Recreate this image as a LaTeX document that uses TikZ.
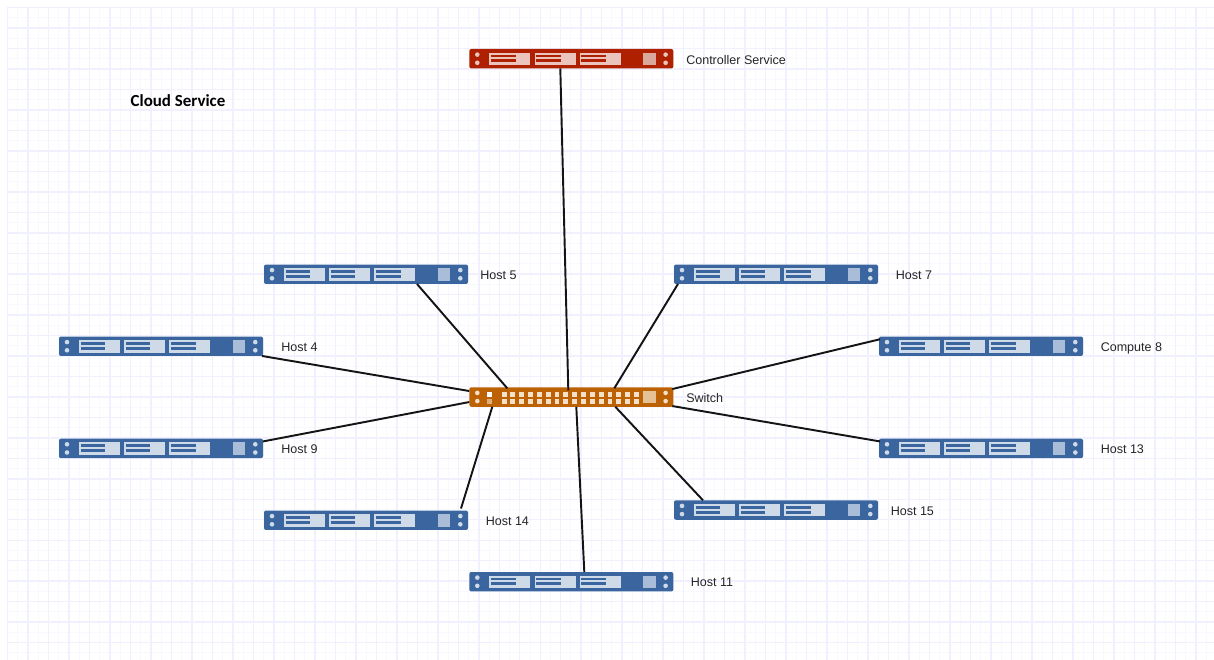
\documentclass[tikz,border=0pt]{standalone}
\usepackage{fontspec}
\setmainfont{Liberation Sans}
\newfontfamily\cloudfont{Carlito}
\usetikzlibrary{calc}
\definecolor{gridc}{HTML}{F8F8FF}
\definecolor{gridm}{HTML}{F0F0FE}
\definecolor{bluec}{HTML}{3A659F}
\definecolor{bluel}{HTML}{CFDAE8}
\definecolor{bluem}{HTML}{A9BDD8}
\definecolor{redc}{HTML}{AE2000}
\definecolor{redl}{HTML}{EBC5BD}
\definecolor{redm}{HTML}{DBA89C}
\definecolor{orac}{HTML}{BC6205}
\definecolor{oral}{HTML}{F5E0CA}
\definecolor{oram}{HTML}{E5C196}
\tikzset{
  x=0.75pt,y=-0.75pt,
  srv/.style={anchor=north west,inner sep=0pt,outer sep=0pt,minimum width=153pt,minimum height=14.6pt,rounded corners=1.5pt,fill=#1},
  lbl/.style={anchor=base west,inner sep=0pt,font=\fontsize{9.4}{11}\selectfont,text=black!85},
  link/.style={line width=1.45pt,draw=black!92},
}
% name, left, top, dark, light, mid
\newcommand\dotpair[3]{%
  \fill[#3] (#1,#2+5.6) circle (2.3);\fill[#3] (#1,#2+13.8) circle (2.3);}
\newcommand\srvbody[6]{%
  \node[srv=#4] (#1) at (#2,#3) {};
  \dotpair{#2+8}{#3}{#5}\dotpair{#2+196.3}{#3}{#5}
  \fill[#6] (#2+174,#3+3.7) rectangle (#2+186.3,#3+16);}
\newcommand\srv[6]{%
  \srvbody{#1}{#2}{#3}{#4}{#5}{#6}
  \foreach \o in {20,65.2,110.4}{
    \fill[#5] (#2+\o,#3+3.7) rectangle ++(41,12.3);
    \fill[#4] (#2+\o+1.5,#3+5.6) rectangle ++(24.7,2.6);
    \fill[#4] (#2+\o+1.5,#3+10.2) rectangle ++(24.7,3.2);
  }}
\begin{document}
\begin{tikzpicture}
\useasboundingbox (0,0) rectangle (1214,660);
\fill[white] (0,0) rectangle (1214,660);
\foreach \i in {0,...,118}{
  \draw[gridc,line width=0.75pt] (7.5+10.245*\i,7) -- (7.5+10.245*\i,660);}
\foreach \i in {0,...,63}{
  \draw[gridc,line width=0.75pt] (7,7.5+10.245*\i) -- (1214,7.5+10.245*\i);}
\foreach \i in {0,...,59}{
  \draw[gridm,line width=1.1pt] (7.5+20.49*\i,7) -- (7.5+20.49*\i,660);}
\foreach \i in {0,...,31}{
  \draw[gridm,line width=1.1pt] (7,7.5+20.49*\i) -- (1214,7.5+20.49*\i);}

\srv{ctrl}{469.3}{49}{redc}{redl}{redm}
\srv{h5}{264}{264.5}{bluec}{bluel}{bluem}
\srv{h7}{674}{264.5}{bluec}{bluel}{bluem}
\srv{h4}{59}{336.5}{bluec}{bluel}{bluem}
\srv{c8}{879}{336.5}{bluec}{bluel}{bluem}
\srv{h9}{59}{438.7}{bluec}{bluel}{bluem}
\srv{h13}{879}{438.7}{bluec}{bluel}{bluem}
\srv{h14}{264}{510.5}{bluec}{bluel}{bluem}
\srv{h15}{674}{500.3}{bluec}{bluel}{bluem}
\srv{h11}{469.3}{572}{bluec}{bluel}{bluem}
\srvbody{sw}{469.3}{387.3}{orac}{oral}{oram}
\foreach \c in {0,...,15}{
  \fill[oral] (469.3+32.3+8.83*\c,387.3+4.3) rectangle ++(4.9,4.9);
  \fill[oral] (469.3+32.3+8.83*\c,387.3+11.3) rectangle ++(4.9,4.9);}
\fill[white] (469.3+17.9,387.3+4.3) rectangle ++(4.9,4.9);
\fill[oram!80!orac] (469.3+17.9,387.3+11.3) rectangle ++(4.9,4.9);

\node[lbl] (lctrl) at (686,64.3) {Controller Service};
\node[lbl] (l5) at (480,279.8) {Host 5};
\node[lbl] (l7) at (895.5,279.8) {Host 7};
\node[lbl] (l4) at (281,351.3) {Host 4};
\node[lbl] (l8) at (1100.5,351.3) {Compute 8};
\node[lbl] (lsw) at (686,402.3) {Switch};
\node[lbl] (l9) at (281,453.8) {Host 9};
\node[lbl] (l13) at (1100.5,453.8) {Host 13};
\node[lbl] (l14) at (485.5,525.3) {Host 14};
\node[lbl] (l15) at (890.5,515.3) {Host 15};
\node[lbl] (l11) at (690.5,586.8) {Host 11};
\node[anchor=center,inner sep=0pt,font=\cloudfont\bfseries\fontsize{12.7}{15}\selectfont] (cloud) at (178,100.5) {Cloud Service};

\draw[link] ($(ctrl.south west)+(91,0)$) -- ($(sw.north west)+(99,3)$);
\draw[link] ($(h5.south west)+(153,0)$) -- ($(sw.north west)+(38,1)$);
\draw[link] ($(h7.south west)+(4,0)$) -- ($(sw.north west)+(145,1)$);
\draw[link] ($(h4.south east)+(-1,0)$) -- ($(sw.west)+(0,-6)$);
\draw[link] ($(c8.west)+(1,-7)$) -- ($(sw.east)+(-1,-8)$);
\draw[link] ($(h13.west)+(1,-7)$) -- ($(sw.east)+(-1,9)$);
\draw[link] ($(h9.east)+(0,-7)$) -- ($(sw.west)+(0,5)$);
\draw[link] ($(h15.north west)+(29,0)$) -- ($(sw.south west)+(146,0)$);
\draw[link] ($(h11.north west)+(115,0)$) -- ($(sw.south west)+(107,0)$);
\draw[link] ($(h14.north west)+(197,-2)$) -- ($(sw.south west)+(23,0)$);
\end{tikzpicture}
\end{document}
